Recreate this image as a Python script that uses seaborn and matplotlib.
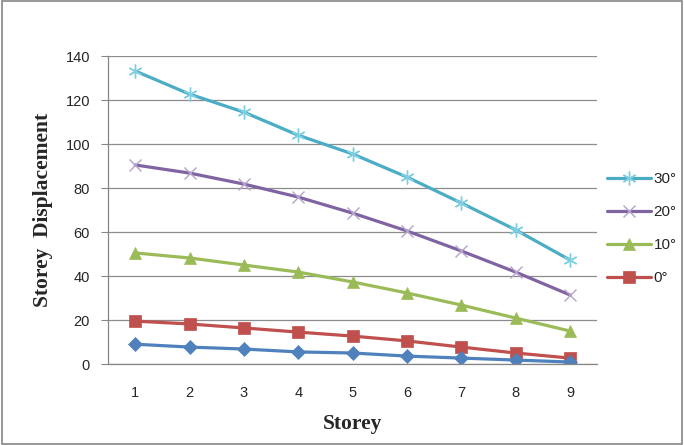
import numpy as np
import pandas as pd
import matplotlib
matplotlib.use('Agg')
import matplotlib.pyplot as plt
import seaborn as sns
from matplotlib.patches import Rectangle

storey = [1, 2, 3, 4, 5, 6, 7, 8, 9]
disp_30 = [133.2, 122.7, 114.5, 104.0, 95.5, 85.0, 73.2, 61.0, 47.3]
disp_20 = [90.5, 86.8, 81.8, 75.9, 68.6, 60.5, 51.4, 41.8, 31.4]
disp_10 = [50.5, 48.2, 45.0, 41.8, 37.3, 32.3, 26.8, 20.9, 15.0]
disp_0 = [19.5, 18.2, 16.4, 14.5, 12.7, 10.5, 7.7, 5.0, 2.7]
disp_base = [9.0, 7.7, 6.8, 5.5, 5.0, 3.6, 2.7, 1.8, 0.9]
y_ticks = [0, 20, 40, 60, 80, 100, 120, 140]

sns.set_style('white')
plt.rcParams['font.family'] = ['Liberation Sans', 'DejaVu Sans']

fig = plt.figure(figsize=(6.84, 4.45), dpi=100)
ax = fig.add_axes([0.158, 0.182, 0.715, 0.692])

# values, label, line colour, marker, marker colour, size
series = [
    (disp_30, '30°', '#4BACC6', (6, 2, 0), '#7fcfe3', 10),
    (disp_20, '20°', '#8064A2', 'x', '#b4a2cc', 9),
    (disp_10, '10°', '#9BBB59', '^', '#9BBB59', 8),
    (disp_0, '0°', '#C0504D', 's', '#C0504D', 8),
    (disp_base, '_nolegend_', '#4F81BD', 'D', '#4F81BD', 7),
]
for vals, lab, col, mk, mcol, ms in series:
    thin = mk in ('x', (6, 2, 0))
    sns.lineplot(x=storey, y=vals, ax=ax, color=col, linewidth=2.3, marker=mk,
                 markersize=ms, markeredgecolor=mcol, markerfacecolor=mcol,
                 markeredgewidth=1.0 if thin else 0.5, label=lab)

ax.set_xlim(0.5, 9.5)
ax.set_ylim(0, 140)
ax.set_yticks(y_ticks)
ax.set_xticks(storey)
ax.set_xticks(np.arange(0.5, 10, 1), minor=True)
ax.tick_params(axis='x', which='major', length=0, labelsize=10.5, pad=16)
ax.tick_params(axis='x', which='minor', length=5, color='#868686', direction='out')
ax.tick_params(axis='y', length=5, color='#868686', direction='out', labelsize=10.5, pad=8, left=True)
ax.yaxis.grid(True, color='#8c8c8c', linewidth=0.9)
ax.set_axisbelow(True)
for s in ['top', 'right']:
    ax.spines[s].set_visible(False)
for s in ['left', 'bottom']:
    ax.spines[s].set_color('#868686')
    ax.spines[s].set_linewidth(0.9)

ax.set_xlabel('Storey', family='Liberation Serif', fontweight='bold', fontsize=15.5, labelpad=10)
ax.set_ylabel('Storey  Displacement', family='Liberation Serif', fontweight='bold', fontsize=15.5, labelpad=9)

ax.legend(loc='center left', bbox_to_anchor=(1.0, 0.44), frameon=False, fontsize=11,
          handlelength=2.9, labelspacing=1.25, handletextpad=0.15, borderaxespad=0.25)

fig.patches.append(Rectangle((0.003, 0.003), 0.994, 0.994, transform=fig.transFigure,
                             fill=False, edgecolor='#868686', linewidth=1.2))

fig.savefig('out.png', dpi=100)
